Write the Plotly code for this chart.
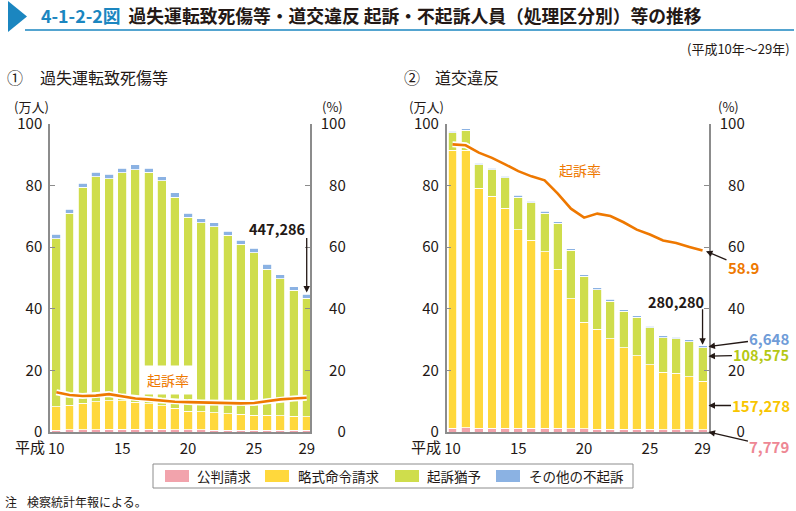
import plotly.graph_objects as go

W, H = 796, 511
FONT = "Noto Sans CJK JP"

# ---------------- data (万人 / %) ----------------
years = list(range(10, 30))
year_ticks = [10, 15, 20, 25, 29]
year_ticktext = ["10", "15", "20", "25", "29"]
y_ticks = [0, 20, 40, 60, 80, 100]

# ① 過失運転致死傷等
kashitsu_kohan = [0.65, 0.7, 0.75, 0.8, 0.85, 0.85, 0.9, 0.9, 0.85, 0.8,
                  0.75, 0.7, 0.65, 0.6, 0.6, 0.58, 0.55, 0.55, 0.53, 0.5307]
kashitsu_ryaku = [7.55, 8.0, 8.55, 9.0, 9.25, 9.25, 8.8, 8.2, 7.65, 6.9,
                  6.05, 5.9, 5.65, 5.3, 5.1, 4.92, 4.85, 4.75, 4.57, 4.4288]
kashitsu_yuyo = [54.5, 62.3, 70.2, 73.1, 72.1, 74.1, 75.5, 75.2, 73.0, 68.6,
                 63.0, 61.4, 60.3, 58.0, 55.2, 52.7, 47.5, 44.4, 41.0, 38.5418]
kashitsu_sonota = [1.5, 1.3, 1.3, 1.5, 1.5, 1.5, 1.5, 1.4, 1.3, 1.3,
                   1.3, 1.3, 1.3, 1.3, 1.4, 1.4, 1.5, 1.3, 1.1, 1.2273]
kashitsu_rate = [12.9, 12.0, 11.7, 11.8, 12.3, 11.5, 10.9, 10.6, 10.2, 9.8,
                 9.7, 9.6, 9.5, 9.3, 9.3, 9.4, 10.0, 10.6, 10.9, 11.1]

# ② 道交違反
doko_kohan = [1.3, 1.35, 1.3, 1.3, 1.3, 1.3, 1.25, 1.2, 1.15, 1.1,
              1.0, 0.95, 0.9, 0.9, 0.85, 0.82, 0.8, 0.8, 0.78, 0.7779]
doko_ryaku = [90.1, 90.05, 77.9, 75.2, 71.3, 64.4, 60.95, 57.4, 51.65, 42.2,
              34.6, 32.35, 29.4, 26.4, 23.95, 21.08, 18.6, 18.2, 17.22, 15.7278]
doko_yuyo = [5.8, 6.6, 7.6, 8.7, 9.9, 10.6, 12.2, 12.5, 15.0, 15.7,
             15.0, 12.9, 12.2, 11.9, 12.4, 11.9, 11.2, 11.2, 11.3, 10.8575]
doko_sonota = [0.5, 0.5, 0.5, 0.5, 0.5, 0.6, 0.5, 0.6, 0.5, 0.5,
               0.5, 0.6, 0.6, 0.5, 0.6, 0.5, 0.6, 0.5, 0.7, 0.6648]
doko_rate = [93.4, 93.1, 90.7, 89.0, 86.9, 84.7, 83.0, 81.7, 77.4, 72.5,
             69.6, 70.9, 70.1, 68.1, 65.7, 64.1, 62.2, 61.4, 60.1, 58.9]

series_names = ["公判請求", "略式命令請求", "起訴猶予", "その他の不起訴"]
series_colors = ["#F2A3AC", "#FFD83C", "#CFDD4C", "#8BB2E3"]
rate_color = "#EE7800"

# ---------------- helpers ----------------
def px(x):
    return x / W

def py(y):
    return 1 - y / H

# right-side axes: right-aligned tick labels (invisible padding digits)
def pad_right(v):
    s = str(v)
    n = 3 - len(s)
    if n <= 0:
        return s
    return "<span style='color:rgba(0,0,0,0)'>" + "0" * n + "</span>" + s

right_ticktext = [pad_right(v) for v in y_ticks]

fig = go.Figure()

left_series = [kashitsu_kohan, kashitsu_ryaku, kashitsu_yuyo, kashitsu_sonota]
right_series = [doko_kohan, doko_ryaku, doko_yuyo, doko_sonota]

for vals, name, col in zip(left_series, series_names, series_colors):
    fig.add_trace(go.Bar(x=years, y=vals, name=name, marker_color=col,
                         marker_line=dict(color="white", width=0.8),
                         xaxis="x", yaxis="y", showlegend=False))
for vals, name, col in zip(right_series, series_names, series_colors):
    fig.add_trace(go.Bar(x=years, y=vals, name=name, marker_color=col,
                         marker_line=dict(color="white", width=0.8),
                         xaxis="x2", yaxis="y3", showlegend=False))

# rate lines (white halo + orange)
for xa, ya, vals in [("x", "y2", kashitsu_rate), ("x2", "y4", doko_rate)]:
    fig.add_trace(go.Scatter(x=years, y=vals, mode="lines", xaxis=xa, yaxis=ya,
                             line=dict(color="white", width=6), showlegend=False,
                             hoverinfo="skip"))
    fig.add_trace(go.Scatter(x=years, y=vals, mode="lines", xaxis=xa, yaxis=ya,
                             line=dict(color=rate_color, width=2.6), showlegend=False,
                             name="起訴率"))

axis_col = "#8c8c8c"
tick_font = dict(family=FONT, size=15, color="#231815")

y_dom = [py(432), py(124)]

def xaxis_cfg(dom, rng):
    return dict(domain=dom, range=rng, tickvals=year_ticks, ticktext=year_ticktext,
                showline=True, linecolor=axis_col, linewidth=1.5, ticks="",
                showgrid=False, zeroline=False, tickfont=tick_font, fixedrange=True,
                automargin=False, ticklabelstandoff=2)

def yaxis_cfg(**kw):
    d = dict(range=[0, 100], tickvals=y_ticks, showline=True, linecolor=axis_col,
             linewidth=1.5, ticks="inside", ticklen=5, tickcolor=axis_col,
             showgrid=False, zeroline=False, tickfont=tick_font, automargin=False)
    d.update(kw)
    return d

fig.update_layout(
    width=W, height=H,
    margin=dict(l=0, r=0, t=0, b=0, pad=0, autoexpand=False),
    paper_bgcolor="white", plot_bgcolor="rgba(0,0,0,0)",
    barmode="stack", bargap=0.32,
    font=dict(family=FONT, color="#231815"),
    xaxis=xaxis_cfg([px(50), px(310)], [9.52, 29.25]),
    yaxis=yaxis_cfg(domain=y_dom, anchor="x", side="left", ticklabelstandoff=3),
    yaxis2=yaxis_cfg(overlaying="y", anchor="x", side="right", ticklabelstandoff=6,
                     ticktext=right_ticktext),
    xaxis2=xaxis_cfg([px(446.7), px(709)], [9.56, 29.49]),
    yaxis3=yaxis_cfg(domain=y_dom, anchor="x2", side="left", ticklabelstandoff=3),
    yaxis4=yaxis_cfg(overlaying="y3", anchor="x2", side="right", ticklabelstandoff=6,
                     ticktext=right_ticktext),
    showlegend=False,
)

ann = []
shapes = []

def text(x, y, s, size=14, color="#231815", xanchor="center", bold=False, **kw):
    if bold:
        s = "<b>" + s + "</b>"
    ann.append(dict(x=px(x), y=py(y), xref="paper", yref="paper", text=s,
                    showarrow=False, xanchor=xanchor, yanchor="middle",
                    font=dict(family=FONT, size=size, color=color), **kw))

def arrow_label(xref, yref, x, y, ax, ay, s, color, size=15):
    ann.append(dict(x=x, y=y, xref=xref, yref=yref, ax=ax, ay=ay,
                    text="<b>" + s + "</b>" if s else "", showarrow=True,
                    arrowhead=2, arrowsize=1, arrowwidth=1.3, arrowcolor="#231815",
                    standoff=0,
                    font=dict(family=FONT, size=size, color=color)))

# ---- title ----
shapes.append(dict(type="path", xref="paper", yref="paper",
                   path=f"M {px(8)} {py(1)} L {px(8)} {py(32)} L {px(27)} {py(16.5)} Z",
                   fillcolor="#1B86C0", line=dict(width=0)))
shapes.append(dict(type="line", xref="paper", yref="paper",
                   x0=px(25), x1=px(794), y0=py(30), y1=py(30),
                   line=dict(color="#1B86C0", width=1.5)))
text(39, 15, "<span style='color:#1B86C0'>4-1-2-2図</span>  過失運転致死傷等・道交違反 起訴・不起訴人員（処理区分別）等の推移",
     size=17.8, xanchor="left", bold=True)
text(792, 48, "(平成10年〜29年)", size=13, xanchor="right")

# ---- subtitles ----
text(5, 77, "①", size=16, xanchor="left")
text(38, 77, "過失運転致死傷等", size=16, xanchor="left")
text(402, 77, "②", size=16, xanchor="left")
text(433, 77, "道交違反", size=16, xanchor="left")

# ---- axis unit labels ----
text(31, 106, "(万人)", size=13)
text(332, 106, "(%)", size=13)
text(426, 106, "(万人)", size=13)
text(728, 106, "(%)", size=13)

# ---- 平成 prefix on x axes ----
for xr in ["x", "x2"]:
    ann.append(dict(x=10, y=py(446), xref=xr, yref="paper", yanchor="middle", xanchor="right",
                    text="平成", showarrow=False, xshift=-9,
                    font=dict(family=FONT, size=15, color="#231815")))

# ---- 起訴率 labels ----
text(168, 380, "起訴率", size=14, color=rate_color, bgcolor="white", borderpad=4)
text(580, 170, "起訴率", size=14, color=rate_color)

# ---- left chart value annotations ----
text(307, 228, "447,286", size=14.5, xanchor="right", bold=True)
arrow_label("x", "y", 29, 45.3, 0, -56, "", "#231815")
arrow_label("x", "y", 29.47, 44.3, 53, 0, "12,273", "#6F9CD8")
arrow_label("x", "y", 29.47, 27.3, 49, 0, "385,418", "#B5C814")
arrow_label("x", "y2", 29.4, 11.1, 39, -11, "11.1", rate_color)
arrow_label("x", "y", 29.6, 3.3, 47, -13, "44,288", "#F8C500")
arrow_label("x", "y", 29.6, 0, 53, 5, "5,307", "#EE8794")

# ---- right chart value annotations ----
text(706, 301, "280,280", size=14.5, xanchor="right", bold=True)
arrow_label("x2", "y3", 29, 28.3, 0, -37, "", "#231815")
arrow_label("x2", "y4", 29.26, 58.7, 38, 16, "58.9", rate_color)
arrow_label("x2", "y3", 29.45, 27.7, 61, -8, "6,648", "#6F9CD8")
arrow_label("x2", "y3", 29.45, 24.6, 53, -1.5, "108,575", "#B5C814", size=14.5)
arrow_label("x2", "y3", 29.45, 8.6, 53, 0, "157,278", "#F8C500")
arrow_label("x2", "y3", 29.45, 0, 61, 14, "7,779", "#EE8794")

# ---- legend (drawn) ----
shapes.append(dict(type="rect", xref="paper", yref="paper",
                   x0=px(153), x1=px(633), y0=py(488), y1=py(464),
                   line=dict(color="#8c8c8c", width=1), fillcolor="white"))
leg_pos = [(165, 195), (265, 296), (395, 425), (496, 527)]
for (sx, tx), name, col in zip(leg_pos, series_names, series_colors):
    shapes.append(dict(type="rect", xref="paper", yref="paper",
                       x0=px(sx), x1=px(sx + 24), y0=py(482), y1=py(470),
                       line=dict(width=0), fillcolor=col))
    text(tx, 476, name, size=13.5, xanchor="left")

# ---- note ----
text(3, 501, "注", size=12, xanchor="left")
text(25, 501, "検察統計年報による。", size=12, xanchor="left")

fig.update_layout(annotations=ann, shapes=shapes)
fig.write_html("out.html", config={"displayModeBar": False},
               post_script="document.body.style.margin='0';document.body.style.padding='0';"
                           "document.documentElement.style.overflow='hidden';")
